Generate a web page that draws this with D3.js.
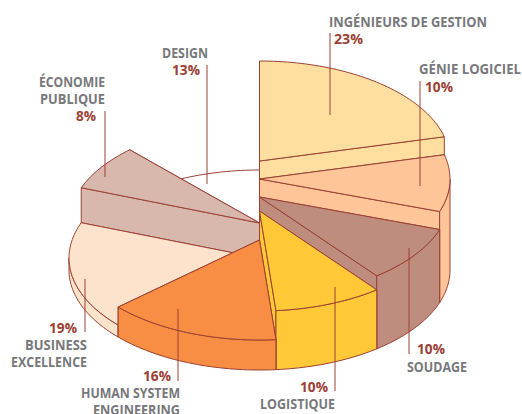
<!DOCTYPE html>
<html>
<head>
<meta charset="utf-8">
<script src="https://cdn.jsdelivr.net/npm/d3@7"></script>
<style>
html, body { margin: 0; padding: 0; background: #fff; overflow: hidden; }
text { font-family: "Open Sans", sans-serif; font-weight: 700; font-size: 13.5px; }
</style>
</head>
<body>
<div id="chart"></div>
<script>
// Chart data, clockwise from 12 o'clock
var categories = ["INGÉNIEURS DE GESTION", "GÉNIE LOGICIEL", "SOUDAGE", "LOGISTIQUE", "HUMAN SYSTEM ENGINEERING", "BUSINESS EXCELLENCE", "ÉCONOMIE PUBLIQUE", "DESIGN"];
var values = [23, 10, 10, 10, 16, 19, 8, 13];
// each slice stands on the base at its own height
var levels = [109, 91, 73, 59, 30, 12, 47, 0];
var colors = ["#fedf9f", "#fdc598", "#bf8d7d", "#ffc837", "#f78e43", "#fde2cc", "#d8b7ac", "#ffffff"];

var width = 522, height = 414;
var cx = 259.5, cy = 270, rx = 190.5, ry = 100;
var lineColor = "#9c4034", greyText = "#77787b";

// Labels: [text, anchor, x, baseline, width, colour key]
var labels = [
    ["INGÉNIEURS DE GESTION", "start", 329, 27, 158, "name"],
    ["23%", "start", 334, 44, 29, "pct"],
    ["GÉNIE LOGICIEL", "start", 419, 74, 102, "name"],
    ["10%", "start", 425, 92, 28, "pct"],
    ["DESIGN", "start", 162, 58, 46, "name"],
    ["13%", "start", 172, 75, 28, "pct"],
    ["ÉCONOMIE", "end", 105, 87, 66, "name"],
    ["PUBLIQUE", "end", 105, 104, 65, "name"],
    ["8%", "end", 96, 121, 20, "pct"],
    ["19%", "end", 77, 333, 28, "pct"],
    ["BUSINESS", "end", 87, 350, 62, "name"],
    ["EXCELLENCE", "end", 87, 367, 76, "name"],
    ["16%", "end", 171, 381, 28, "pct"],
    ["HUMAN SYSTEM", "end", 180, 398, 99, "name"],
    ["ENGINEERING", "end", 180, 415, 87, "name"],
    ["10%", "end", 328, 392, 28, "pct"],
    ["LOGISTIQUE", "end", 335, 409, 75, "name"],
    ["10%", "start", 417, 354, 28, "pct"],
    ["SOUDAGE", "start", 407, 372, 60, "name"]
];
// Leader lines: [x, y1, y2]
var leaders = [
    [330, 33, 115], [420, 81, 186], [207, 65, 184], [105, 111, 177],
    [85, 279, 332], [178, 309, 381], [335, 287, 391], [409, 248, 354]
];
// back to front
var paintOrder = [7, 0, 6, 5, 1, 2, 3, 4];

var svg = d3.select("#chart").append("svg")
    .attr("width", width)
    .attr("height", height)
    .style("display", "block");

var pie = d3.pie().sort(null)(values);

var xScale = d3.scaleLinear().domain([-1, 1]).range([cx - rx, cx + rx]);
var yScale = d3.scaleLinear().domain([-1, 1]).range([cy + ry, cy - ry]);
var line = d3.line();

// point on the ellipse at angle t, raised by level
function pt(t, level) {
    return [xScale(Math.sin(t)), yScale(Math.cos(t)) - level];
}
function arcPoints(t0, t1, level) {
    var n = Math.max(2, Math.ceil((t1 - t0) * 40));
    return d3.range(n + 1).map(function(i) {
        return pt(t0 + (t1 - t0) * i / n, level);
    });
}
function center(level) { return [cx, cy - level]; }

function drawShape(points, fill) {
    svg.append("path")
        .attr("d", line(points) + "Z")
        .attr("fill", fill)
        .attr("stroke", lineColor)
        .attr("stroke-width", 1)
        .attr("stroke-linejoin", "round");
}
function radialWall(t, level, fill) {
    drawShape([center(level), pt(t, level), pt(t, 0), center(0)], fill);
}

paintOrder.forEach(function(i) {
    var t0 = pie[i].startAngle, t1 = pie[i].endAngle;
    var level = levels[i], fill = colors[i];

    if (level > 0) {
        // the side nearer the viewer goes last
        if (t0 < Math.PI) {
            radialWall(t0, level, fill);
            radialWall(t1, level, fill);
        } else {
            radialWall(t1, level, fill);
            radialWall(t0, level, fill);
        }
        // outer wall, only the front half of the ellipse
        var a = Math.max(t0, Math.PI / 2), b = Math.min(t1, Math.PI * 1.5);
        if (b > a) {
            drawShape(arcPoints(a, b, level).concat(arcPoints(a, b, 0).reverse()), fill);
        }
    }
    // top of the slice
    drawShape([center(level)].concat(arcPoints(t0, t1, level)), fill);
});

// Leader lines
svg.selectAll(".leader")
    .data(leaders)
    .enter().append("line")
    .attr("class", "leader")
    .attr("x1", function(d) { return d[0]; })
    .attr("x2", function(d) { return d[0]; })
    .attr("y1", function(d) { return d[1]; })
    .attr("y2", function(d) { return d[2]; })
    .attr("stroke", lineColor)
    .attr("stroke-width", 1);

// Labels
svg.selectAll(".label")
    .data(labels)
    .enter().append("text")
    .attr("class", "label")
    .text(function(d) { return d[0]; })
    .attr("text-anchor", function(d) { return d[1]; })
    .attr("x", function(d) { return d[2]; })
    .attr("y", function(d) { return d[3]; })
    .attr("textLength", function(d) { return d[4]; })
    .attr("lengthAdjust", "spacingAndGlyphs")
    .attr("fill", function(d) { return d[5] === "pct" ? lineColor : greyText; });
</script>
</body>
</html>
